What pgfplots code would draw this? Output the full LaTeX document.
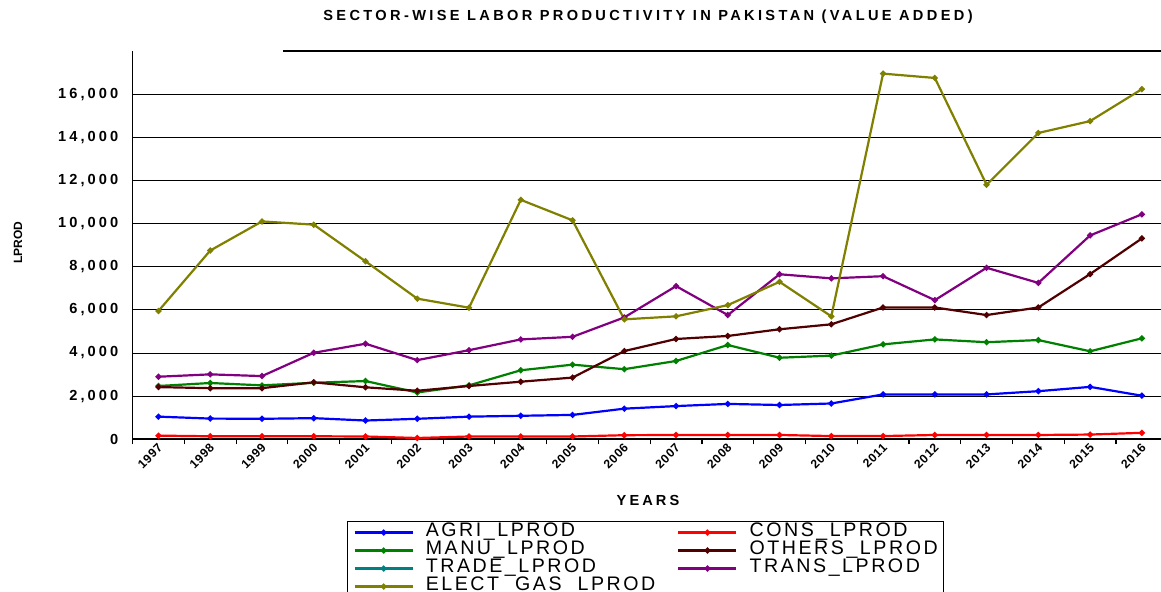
\documentclass[border=0pt]{standalone}
\usepackage{pgfplots}
\pgfplotsset{compat=1.18}
\usepackage{pgfplotstable}
\usepackage{fontspec}
\setmainfont{Liberation Sans}
\newfontfamily\tickfont[LetterSpace=21]{Liberation Sans}
\newfontfamily\xtickfont[LetterSpace=5]{Liberation Sans}
\newfontfamily\titlefont[LetterSpace=23]{Liberation Sans}
\newfontfamily\legfont[LetterSpace=13]{Liberation Sans}
\definecolor{cagri}{RGB}{0,0,255}
\definecolor{ccons}{RGB}{255,0,0}
\definecolor{cmanu}{RGB}{0,128,0}
\definecolor{cothers}{RGB}{80,0,0}
\definecolor{ctrade}{RGB}{0,128,128}
\definecolor{ctrans}{RGB}{128,0,128}
\definecolor{celect}{RGB}{128,128,0}

\pgfplotstableread{
year agri cons manu others trans elect
1997 1050 170 2470 2420 2900 5950
1998 960 140 2610 2370 3010 8750
1999 950 140 2500 2370 2930 10100
2000 980 140 2620 2640 4010 9950
2001 870 130 2700 2410 4430 8250
2002 950 60 2170 2250 3670 6520
2003 1050 130 2500 2470 4130 6100
2004 1090 130 3200 2670 4630 11100
2005 1130 130 3460 2860 4750 10150
2006 1420 190 3250 4090 5650 5560
2007 1540 200 3630 4650 7100 5700
2008 1640 200 4370 4790 5760 6220
2009 1590 200 3780 5100 7650 7300
2010 1660 150 3880 5330 7460 5700
2011 2080 150 4400 6110 7560 16950
2012 2080 200 4630 6110 6450 16750
2013 2080 200 4500 5760 7950 11800
2014 2230 200 4600 6110 7250 14200
2015 2430 220 4080 7660 9450 14750
2016 2020 300 4680 9310 10430 16230
}\datatable

\begin{document}
\begin{tikzpicture}[x=1pt,y=1pt]
\useasboundingbox (0,0) rectangle (580.5,296);
\begin{axis}[
  at={(66.3pt,76.35pt)}, anchor=south west,
  scale only axis, width=514.2pt, height=194.15pt,
  xmin=1996.5, xmax=2016.37, ymin=0, ymax=18000,
  scaled y ticks=false,
  axis x line*=bottom, axis y line*=left,
  axis line style={-, line width=0.8pt, black},
  xtick={1997,...,2016},
  xticklabels={1997,1998,1999,2000,2001,2002,2003,2004,2005,2006,2007,2008,2009,2010,2011,2012,2013,2014,2015,2016},
  minor xtick={1996.5,1997.5,...,2015.5},
  major tick length=0pt, minor tick length=2.5pt, tick align=outside,
  minor tick style={black, line width=0.6pt},
  ytick={0,2000,...,16000},
  yticklabels={0,{2,000},{4,000},{6,000},{8,000},{10,000},{12,000},{14,000},{16,000}},
  ymajorgrids, grid style={black, line width=0.5pt},
  yticklabel style={font=\tickfont\bfseries\fontsize{7.3}{8}\selectfont, inner sep=0pt, anchor=east, xshift=-7pt},
  xticklabel style={font=\xtickfont\bfseries\fontsize{6.1}{7}\selectfont, rotate=45, anchor=east, inner sep=0pt, yshift=-3pt, xshift=-1.5pt},
  every axis plot/.append style={line width=1.1pt, mark=*, mark size=0.9pt},
  legend columns=2,
  legend cell align=left,
  legend image code/.code={\draw[mark repeat=2,mark phase=2,#1] plot coordinates {(0pt,0pt) (14.5pt,0pt) (29pt,0pt)};},
  legend style={at={(0.2085,-0.2104)}, anchor=north west, draw=black, line width=0.6pt,
    inner xsep=3pt, inner ysep=1pt,
    font=\legfont\fontsize{9.8}{10}\selectfont,
    nodes={inner sep=0pt, text height=6.6pt, text depth=2.4pt},
    column sep=6pt,
    /tikz/every even column/.append style={column sep=11pt}},
]
\addplot[color=cagri, mark options={fill=cagri}] table[x=year,y=agri] {\datatable};
\addlegendentry{AGRI\_LPROD}
\addplot[color=ccons, mark options={fill=ccons}] table[x=year,y=cons] {\datatable};
\addlegendentry{CONS\_LPROD}
\addplot[color=cmanu, mark options={fill=cmanu}] table[x=year,y=manu] {\datatable};
\addlegendentry{MANU\_LPROD}
\addplot[color=cothers, mark options={fill=cothers}] table[x=year,y=others] {\datatable};
\addlegendentry{OTHERS\_LPROD}
\addlegendimage{color=ctrade, line width=1.1pt, mark=*, mark size=0.9pt}
\addlegendentry{TRADE\_LPROD}
\addplot[color=ctrans, mark options={fill=ctrans}] table[x=year,y=trans] {\datatable};
\addlegendentry{TRANS\_LPROD}
\addplot[color=celect, mark options={fill=celect}] table[x=year,y=elect] {\datatable};
\addlegendentry{ELECT\_GAS\_LPROD}
\end{axis}
\draw[line width=0.8pt] (141.5,270.6) -- (580.5,270.6);
\node[font=\titlefont\bfseries\fontsize{7.3}{8}\selectfont] at (324,287.5) {SECTOR-WISE LABOR PRODUCTIVITY IN PAKISTAN (VALUE ADDED)};
\node[font=\tickfont\bfseries\fontsize{7.3}{8}\selectfont] at (324,46) {YEARS};
\node[font=\bfseries\fontsize{6}{7}\selectfont, rotate=90] at (9,174.5) {LPROD};
\end{tikzpicture}
\end{document}
